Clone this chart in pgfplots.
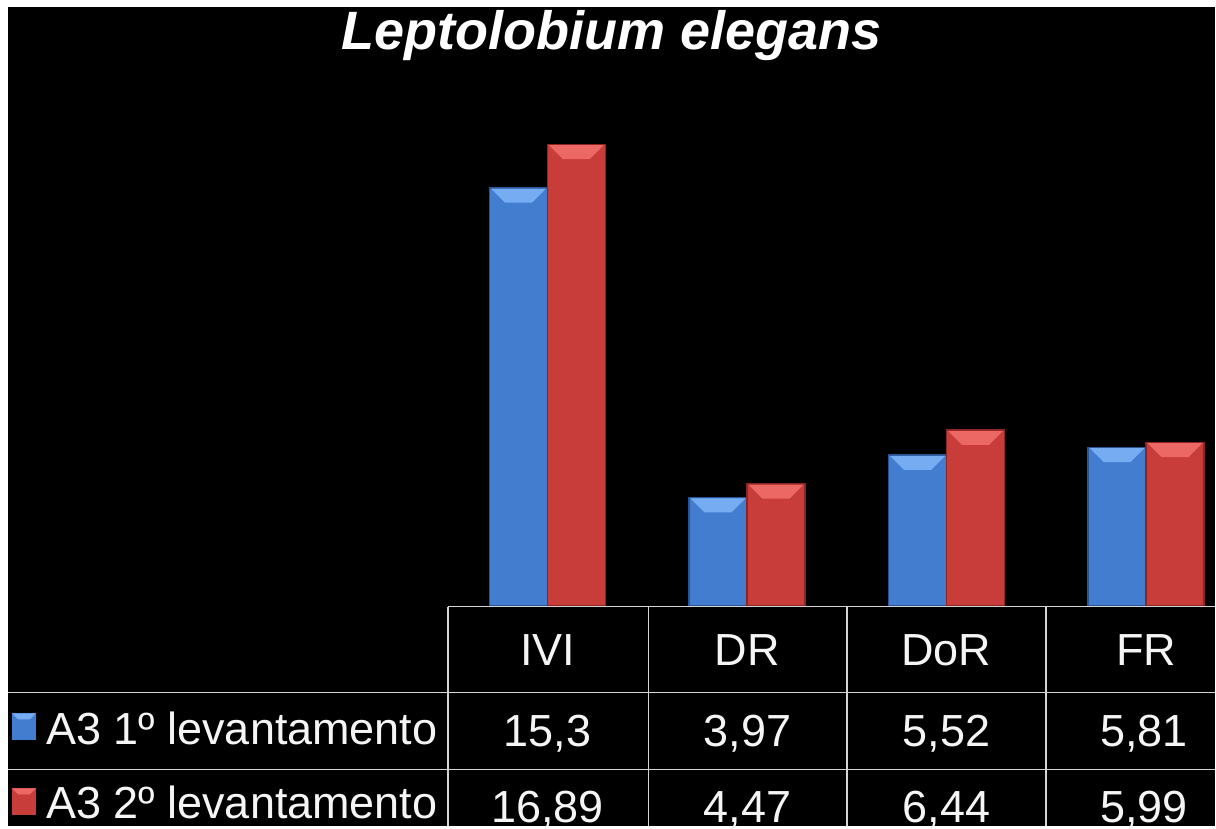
\documentclass[border=0pt]{standalone}
\usepackage{pgfplots}
\pgfplotsset{compat=1.18}
\usepackage{fontspec}
\setmainfont{Liberation Sans}
\definecolor{bblue}{RGB}{66,125,208}
\definecolor{bblueL}{RGB}{118,172,242}
\definecolor{bblueD}{RGB}{40,85,150}
\definecolor{bred}{RGB}{200,60,58}
\definecolor{bredL}{RGB}{236,104,100}
\definecolor{bredD}{RGB}{140,36,34}
\definecolor{gridc}{RGB}{212,212,212}
\definecolor{txt}{RGB}{245,245,245}

\newcommand{\capB}{\tikz[x=1pt,y=1pt]{\fill[fill=bblueL,draw=none] (0,0)--(55,0)--(41,-14)--(14,-14)--cycle;}}
\newcommand{\capR}{\tikz[x=1pt,y=1pt]{\fill[fill=bredL,draw=none] (0,0)--(55,0)--(41,-14)--(14,-14)--cycle;}}

\pgfplotstableread{
x v
0 15.3
1 3.97
2 5.52
3 5.81
}\first
\pgfplotstableread{
x v
0 16.89
1 4.47
2 6.44
3 5.99
}\second

\begin{document}
\begin{tikzpicture}[x=1pt,y=1pt]
\fill[white] (0,0) rectangle (1216,827);
\fill[black] (8,0) rectangle (1216,820);
\begin{axis}[
  at={(448pt,220.4pt)}, anchor=south west,
  scale only axis, width=768pt, height=606.6pt,
  xmin=-0.5, xmax=3.346, ymin=0, ymax=22.17,
  hide axis, ybar, bar width=0.29,
  clip=false,
]
\addplot[ybar, bar shift=-0.145, draw=bblueD, line width=1.5pt, fill=bblue,
  nodes near coords={\capB},
  every node near coord/.append style={anchor=north, inner sep=0pt, outer sep=0pt, yshift=-0.75pt}
  ] table[x=x,y=v] {\first};
\addplot[ybar, bar shift=0.145, draw=bredD, line width=1.5pt, fill=bred,
  nodes near coords={\capR},
  every node near coord/.append style={anchor=north, inner sep=0pt, outer sep=0pt, yshift=-0.75pt}
  ] table[x=x,y=v] {\second};
\end{axis}
% title
\node[anchor=base, text=white, inner sep=0pt, font=\fontsize{54}{60}\selectfont\bfseries\itshape] at (612,777) {Leptolobium elegans};
% table grid
\begin{scope}[gridc, line width=1.8pt]
\draw (448,220) -- (1216,220);
\draw (8,134) -- (1216,134);
\draw (8,57) -- (1216,57);
\draw (448,0) -- (448,220);
\draw (649,0) -- (649,220);
\draw (848,0) -- (848,220);
\draw (1047,0) -- (1047,220);
\end{scope}
% header
\begin{scope}[every node/.style={anchor=base, text=txt, inner sep=0pt, font=\fontsize{45}{50}\selectfont}]
\node at (548,161) {IVI};
\node at (748,161) {DR};
\node at (947,161) {DoR};
\node at (1147,161) {FR};
\node at (548,80) {15,3};
\node at (748,80) {3,97};
\node at (947,80) {5,52};
\node at (1145,80) {5,81};
\node at (548,4) {16,89};
\node at (748,4) {4,47};
\node at (947,4) {6,44};
\node at (1145,4) {5,99};
\end{scope}
% row labels
\begin{scope}[every node/.style={anchor=base west, text=txt, inner sep=0pt, font=\fontsize{45}{50}\selectfont}]
\node at (46,82) {A3 1º levantamento};
\node at (46,8) {A3 2º levantamento};
\end{scope}
% legend keys
\fill[bblue] (12,86) rectangle (36,113);
\fill[bblueL] (12,113) -- (36,113) -- (30,107) -- (18,107) -- cycle;
\fill[bred] (12,11) rectangle (36,38);
\fill[bredL] (12,38) -- (36,38) -- (30,32) -- (18,32) -- cycle;
\end{tikzpicture}
\end{document}
